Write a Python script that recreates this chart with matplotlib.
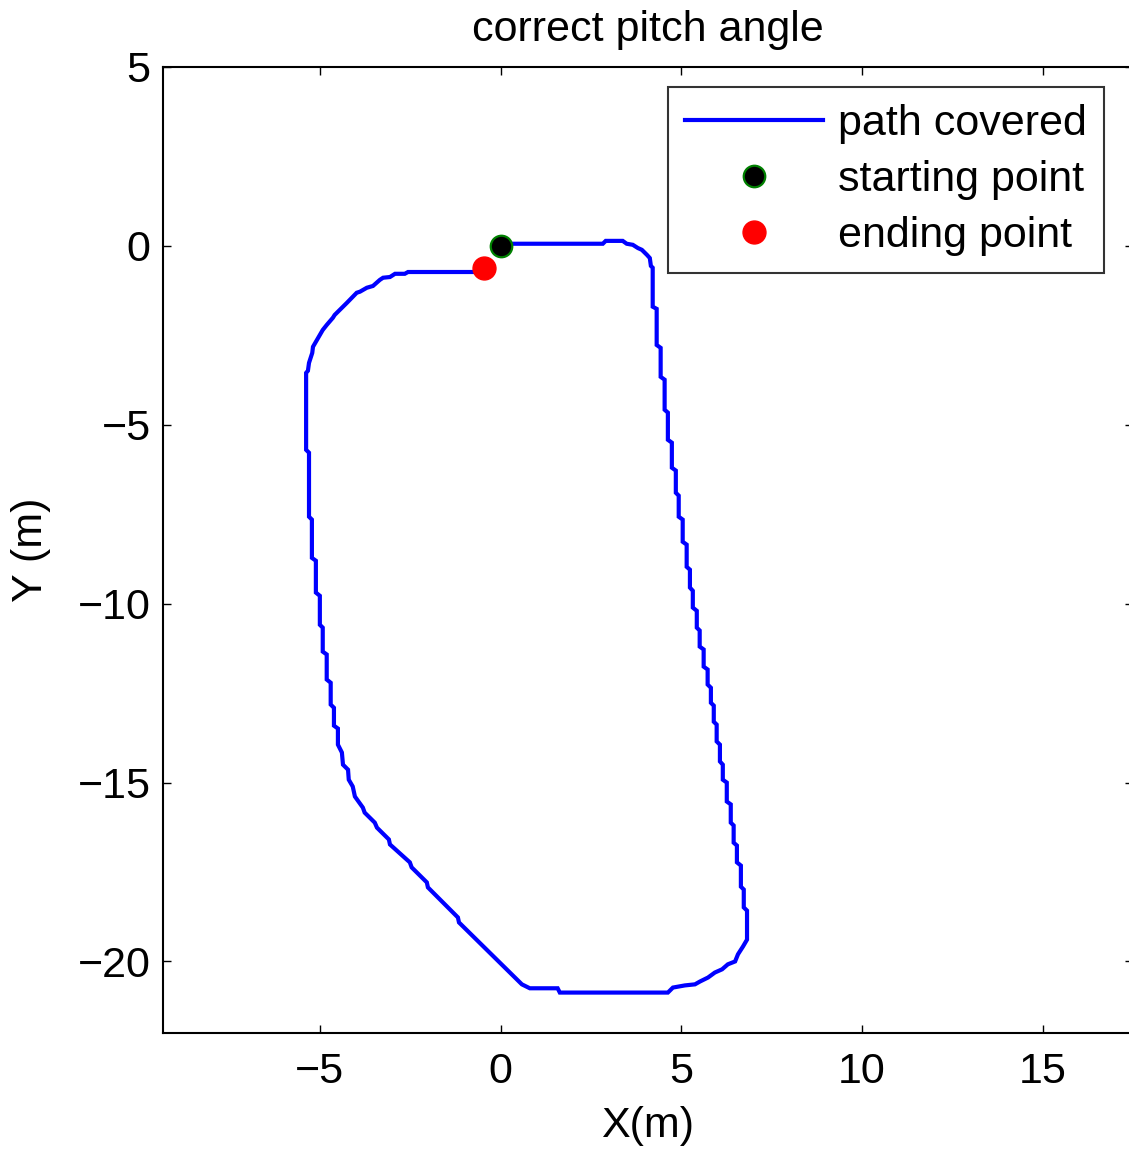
import matplotlib
matplotlib.use("Agg")
import matplotlib.pyplot as plt
import numpy as np

plt.rcParams['font.family'] = ['Liberation Sans', 'DejaVu Sans']

# Path covered (metres)
path_x = [0.00, 0.12, 2.83, 2.91, 3.38, 3.49, 3.66, 3.80, 3.91, 4.05, 4.13, 4.16, 4.21,
          4.21, 4.32, 4.32, 4.43, 4.43, 4.54, 4.54, 4.63, 4.63, 4.74, 4.74, 4.85, 4.85,
          4.93, 4.93, 5.04, 5.04, 5.15, 5.15, 5.24, 5.24, 5.32, 5.32, 5.43, 5.43, 5.51,
          5.51, 5.62, 5.62, 5.73, 5.73, 5.82, 5.82, 5.90, 5.90, 5.98, 5.98, 6.07, 6.07,
          6.15, 6.15, 6.26, 6.26, 6.37, 6.37, 6.45, 6.45, 6.54, 6.54, 6.65, 6.65, 6.73,
          6.73, 6.82, 6.82, 6.71, 6.57, 6.49, 6.29, 6.13, 5.93, 5.74, 5.52, 5.38, 5.10,
          4.77, 4.63, 1.64, 1.58, 0.81, 0.59, -1.15, -1.18, -2.01, -2.04, -2.46, -2.51,
          -3.06, -3.09, -3.42, -3.48, -3.76, -3.81, -4.03, -4.09, -4.20, -4.22, -4.36,
          -4.39, -4.50, -4.50, -4.61, -4.61, -4.70, -4.70, -4.81, -4.81, -4.92, -4.92,
          -5.00, -5.00, -5.11, -5.11, -5.22, -5.22, -5.30, -5.30, -5.38, -5.38, -5.33,
          -5.30, -5.21, -5.19, -5.08, -5.00, -4.92, -4.81, -4.64, -4.59, -4.25, -3.98,
          -3.89, -3.70, -3.53, -3.34, -3.25, -3.06, -2.92, -2.65, -2.56, -0.74, -0.49]
path_y = [0.00, 0.06, 0.06, 0.14, 0.14, 0.06, 0.03, -0.06, -0.11, -0.25, -0.34, -0.56, -0.61,
          -1.70, -1.76, -2.77, -2.85, -3.66, -3.74, -4.58, -4.66, -5.42, -5.50, -6.20,
          -6.28, -6.90, -6.98, -7.57, -7.65, -8.27, -8.35, -8.97, -9.05, -9.55, -9.64,
          -10.11, -10.20, -10.67, -10.75, -11.20, -11.28, -11.76, -11.84, -12.26, -12.35,
          -12.77, -12.85, -13.30, -13.38, -13.85, -13.94, -14.41, -14.50, -14.92, -15.00,
          -15.53, -15.61, -16.12, -16.20, -16.68, -16.76, -17.23, -17.32, -17.91, -17.99,
          -18.49, -18.58, -19.39, -19.58, -19.80, -20.00, -20.08, -20.22, -20.31, -20.45,
          -20.56, -20.64, -20.67, -20.73, -20.87, -20.87, -20.75, -20.75, -20.64, -18.91,
          -18.77, -17.93, -17.79, -17.37, -17.23, -16.73, -16.59, -16.26, -16.12, -15.84,
          -15.70, -15.39, -15.11, -14.92, -14.64, -14.50, -14.16, -13.94, -13.49, -13.41,
          -12.91, -12.82, -12.21, -12.12, -11.42, -11.34, -10.67, -10.59, -9.78, -9.69,
          -8.80, -8.72, -7.65, -7.57, -5.78, -5.70, -3.55, -3.49, -3.27, -2.99, -2.82,
          -2.63, -2.49, -2.35, -2.21, -2.01, -1.93, -1.59, -1.31, -1.28, -1.17, -1.12,
          -0.95, -0.89, -0.87, -0.78, -0.78, -0.73, -0.73, -0.70]

start_pt = [0.0, 0.0]
end_pt = [-0.46, -0.62]

x_ticks = [-5, 0, 5, 10, 15]
y_ticks = [-20, -15, -10, -5, 0, 5]

W, H = 1129, 1149
fig = plt.figure(figsize=(W / 100, H / 100), dpi=100)
ax = fig.add_axes([163 / W, 1 - 1033 / H, (1133 - 163) / W, (1033 - 67) / H])

fs = 31
ax.plot(path_x, path_y, color=(0, 0, 1), lw=3.0, label='path covered', solid_joinstyle='miter')
ax.plot(start_pt[0], start_pt[1], 'o', color='black', markeredgecolor=(0, 0.5, 0),
        markeredgewidth=1.6, markersize=15.5, linestyle='none', label='starting point')
ax.plot(end_pt[0], end_pt[1], 'o', color='red', markeredgecolor='red',
        markersize=16.5, linestyle='none', label='ending point')

ax.set_xlim(-9.34, 17.5)
ax.set_ylim(-22, 5)
ax.set_xticks(x_ticks)
ax.set_yticks(y_ticks)
ax.tick_params(direction='in', length=6, width=1.0, top=True, right=True,
               labelsize=fs, pad=14)
ax.tick_params(axis='y', pad=9)
for s in ax.spines.values():
    s.set_linewidth(1.5)

ax.set_title('correct pitch angle', fontsize=fs, pad=19)
ax.set_xlabel('X(m)', fontsize=fs, labelpad=10)
ax.set_ylabel('Y (m)', fontsize=fs, labelpad=19)

leg = ax.legend(loc='upper left', bbox_to_anchor=(668 / W, 1 - 87 / H),
                bbox_transform=fig.transFigure, fontsize=fs, frameon=True,
                fancybox=False, handlelength=3.2, handletextpad=0.35,
                labelspacing=0.37, borderpad=0.4, borderaxespad=0)
leg.get_frame().set_edgecolor('black')
leg.get_frame().set_linewidth(1.5)

fig.savefig('out.png', dpi=100)
